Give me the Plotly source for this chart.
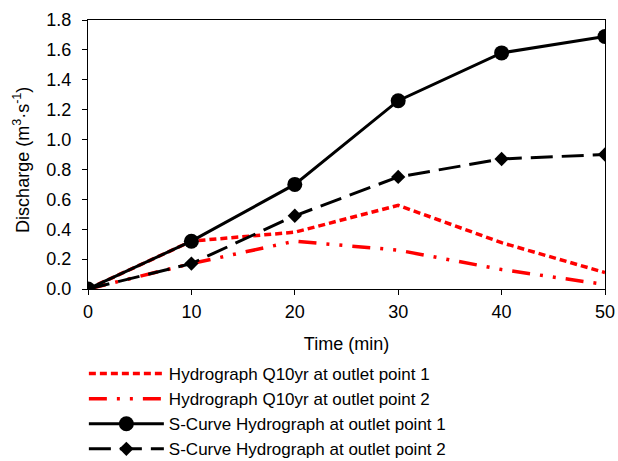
import plotly.graph_objects as go

time_min = [0, 10, 20, 30, 40, 50]
q10_pt1 = [0.0, 0.32, 0.38, 0.56, 0.31, 0.11]
q10_pt2 = [0.0, 0.17, 0.32, 0.26, 0.13, 0.03]
scurve_pt1 = [0.0, 0.32, 0.70, 1.26, 1.58, 1.69]
scurve_pt2 = [0.0, 0.17, 0.49, 0.75, 0.87, 0.90]

names = [
    "Hydrograph Q10yr at outlet point 1",
    "Hydrograph Q10yr at outlet point 2",
    "S-Curve Hydrograph at outlet point 1",
    "S-Curve Hydrograph at outlet point 2",
]
y_title = "Discharge (m<sup>3</sup>·s<sup>-1</sup>)"

fig = go.Figure()
fig.add_trace(go.Scatter(x=time_min, y=q10_pt1, mode="lines", name=names[0],
                         line=dict(color="red", width=3.5, dash="7px,4px")))
fig.add_trace(go.Scatter(x=time_min, y=q10_pt2, mode="lines", name=names[1],
                         line=dict(color="red", width=3.5, dash="18px,10px,3px,10px,3px,10px")))
fig.add_trace(go.Scatter(x=time_min, y=scurve_pt1, mode="lines+markers", name=names[2],
                         line=dict(color="black", width=3),
                         marker=dict(symbol="circle", size=15, color="black")))
fig.add_trace(go.Scatter(x=time_min, y=scurve_pt2, mode="lines+markers", name=names[3],
                         line=dict(color="black", width=3, dash="22px,9px"),
                         marker=dict(symbol="diamond", size=11, color="black")))

axis_common = dict(showline=True, linecolor="black", linewidth=1, mirror=True,
                   ticks="outside", ticklen=5, tickcolor="black", showgrid=False,
                   zeroline=False, tickfont=dict(size=18, color="black"))

fig.update_layout(
    width=618, height=461,
    margin=dict(l=88, r=13, t=20, b=172, autoexpand=False),
    paper_bgcolor="white", plot_bgcolor="white",
    font=dict(family="Liberation Sans, Arial, sans-serif", color="black", size=18),
    xaxis=dict(range=[0, 50], dtick=10, ticklabelstandoff=1,
               title=dict(text="Time (min)", font=dict(size=18), standoff=16),
               **axis_common),
    yaxis=dict(range=[0, 1.8], dtick=0.2, tickformat=".1f", ticklabelstandoff=7,
               **axis_common),
    legend=dict(x=-0.008, y=1 - 356 / 461, xanchor="left", yanchor="top",
                xref="paper", yref="container",
                font=dict(size=17), itemwidth=75, tracegroupgap=0,
                bgcolor="rgba(0,0,0,0)"),
    showlegend=True,
    annotations=[dict(text=y_title, textangle=-90, xref="paper", yref="paper",
                      x=-(88 - 22) / 517, y=0.48, xanchor="center", yanchor="middle",
                      showarrow=False, font=dict(size=18, color="black"))],
)

fig.write_html("out.html")
